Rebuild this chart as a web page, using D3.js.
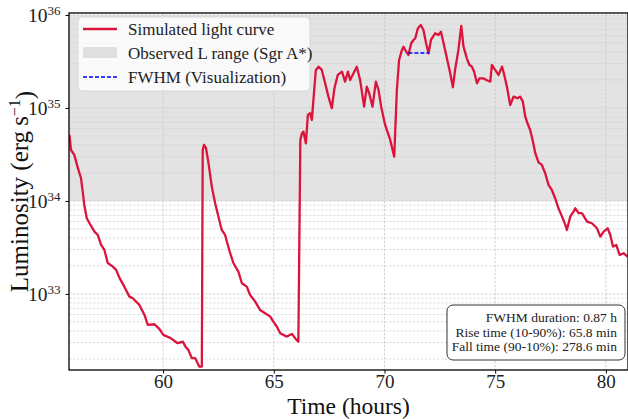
<!DOCTYPE html>
<html>
<head>
<meta charset="utf-8">
<script src="https://cdn.jsdelivr.net/npm/d3@7"></script>
<style>
  body { margin: 0; background: #fff; }
  svg { display: block; font-family: "Liberation Serif", "DejaVu Serif", serif; }
</style>
</head>
<body>
<div id="chart"></div>
<script>
// light curve (time in hours, log10 luminosity in erg/s)
var hours = [55.77,55.84,55.99,56.15,56.29,56.37,56.44,56.55,56.67,56.90,
  57.05,57.20,57.35,57.50,57.73,57.88,58.03,58.25,58.48,58.63,
  58.93,59.16,59.31,59.61,59.83,60.01,60.32,60.66,60.89,61.04,
  61.14,61.30,61.45,61.64,61.75,61.79,61.85,61.94,62.05,62.20,
  62.35,62.50,62.65,62.80,63.03,63.18,63.40,63.56,63.78,63.93,
  64.16,64.38,64.61,64.84,64.98,65.14,65.29,65.59,65.82,65.96,
  66.11,66.20,66.27,66.34,66.45,66.54,66.64,66.72,66.79,66.90,
  67.02,67.17,67.32,67.47,67.62,67.74,67.89,68.08,68.22,68.35,
  68.45,68.60,68.75,68.90,69.08,69.20,69.31,69.46,69.61,69.73,
  69.85,70.03,70.26,70.44,70.56,70.66,70.79,70.86,70.98,71.08,
  71.21,71.31,71.39,71.51,71.64,71.76,71.88,71.99,72.10,72.29,
  72.44,72.55,72.67,72.82,72.97,73.09,73.19,73.34,73.47,73.57,
  73.72,73.84,73.95,74.05,74.18,74.29,74.47,74.60,74.78,74.85,
  75.00,75.15,75.31,75.41,75.53,75.68,75.83,76.01,76.13,76.25,
  76.36,76.46,76.58,76.69,76.81,76.96,77.11,77.26,77.41,77.56,
  77.71,77.86,78.02,78.17,78.24,78.39,78.54,78.62,78.77,78.92,
  79.15,79.37,79.60,79.75,79.90,80.08,80.20,80.32,80.47,80.62,
  80.80,80.98];

var logLum = [34.710,34.548,34.495,34.355,34.247,34.100,33.957,33.817,33.763,33.670,
  33.634,33.527,33.473,33.333,33.294,33.258,33.172,33.078,32.971,32.954,
  32.882,32.774,32.667,32.674,32.624,32.559,32.527,32.470,32.487,32.423,
  32.398,32.309,32.309,32.218,32.218,34.548,34.602,34.567,34.409,34.154,
  33.978,33.831,33.688,33.634,33.438,33.330,33.240,33.115,33.078,32.989,
  32.917,32.828,32.792,32.756,32.702,32.648,32.577,32.541,32.570,32.524,
  32.487,34.656,34.728,34.745,34.620,34.925,34.943,34.871,35.086,35.409,
  35.444,35.409,35.266,35.122,34.997,35.212,35.355,35.390,35.283,35.390,
  35.301,35.373,35.444,35.301,35.014,35.229,35.158,35.014,35.283,35.194,
  35.014,34.817,34.656,34.476,35.194,35.516,35.624,35.659,35.605,35.570,
  35.696,35.731,35.749,35.857,35.892,35.839,35.696,35.588,35.731,35.803,
  35.785,35.820,35.696,35.534,35.373,35.223,35.409,35.624,35.882,35.659,
  35.534,35.462,35.444,35.390,35.266,35.319,35.319,35.301,35.283,35.462,
  35.409,35.355,35.444,35.355,35.229,35.032,35.122,35.104,35.122,35.068,
  34.906,34.835,34.763,34.656,34.516,34.414,34.387,34.298,34.172,34.118,
  34.029,33.921,33.831,33.742,33.688,33.831,33.885,33.921,33.868,33.868,
  33.777,33.760,33.706,33.616,33.670,33.706,33.634,33.509,33.527,33.419,
  33.438,33.401];

var bandRange = [1e34, 1e36];          // observed L range (Sgr A*)
var fwhmTimes = [71.08, 72.03];        // half-max crossing, hours
var fwhmLevel = 35.591;                // log10 of half max
var xTicks = [60, 65, 70, 75, 80];
var yTicks = [1e33, 1e34, 1e35, 1e36];
var statLines = ["FWHM duration: 0.87 h", "Rise time (10-90%): 65.8 min", "Fall time (90-10%): 278.6 min"];
var legendNames = ["Simulated light curve", "Observed L range (Sgr A*)", "FWHM (Visualization)"];

var W = 628, H = 419;
var margin = {top: 13, right: 0, bottom: 49, left: 69},
    width = W - margin.left - margin.right,
    height = H - margin.top - margin.bottom;

var x = d3.scaleLinear().domain([55.75, 81.0]).range([0, width]);
var y = d3.scaleLog().domain([1.52e32, 1.05e36]).range([height, 0]);

var svg = d3.select("#chart").append("svg")
    .attr("width", W)
    .attr("height", H);

var g = svg.append("g")
    .attr("transform", "translate(" + margin.left + "," + margin.top + ")");

g.append("defs").append("clipPath").attr("id", "clip")
  .append("rect").attr("width", width).attr("height", height);

// shaded band
g.append("rect")
    .attr("x", 0)
    .attr("width", width)
    .attr("y", y(bandRange[1]))
    .attr("height", y(bandRange[0]) - y(bandRange[1]))
    .attr("fill", "#e3e3e3");

// grid: minor + major horizontal, major vertical
var minors = [];
[32, 33, 34, 35].forEach(function(e) {
  for (var m = 2; m <= 9; m++) {
    var v = m * Math.pow(10, e);
    if (v > y.domain()[0] && v < y.domain()[1]) minors.push(v);
  }
});
g.append("g").selectAll("line").data(minors).enter().append("line")
    .attr("x1", 0).attr("x2", width)
    .attr("y1", function(d) { return y(d); })
    .attr("y2", function(d) { return y(d); })
    .attr("stroke", "#cfcfcf")
    .attr("stroke-width", 0.7)
    .attr("stroke-dasharray", "2.5,1.5");

g.append("g").selectAll("line").data(yTicks).enter().append("line")
    .attr("x1", 0).attr("x2", width)
    .attr("y1", function(d) { return y(d); })
    .attr("y2", function(d) { return y(d); })
    .attr("stroke", "#c8c8c8")
    .attr("stroke-width", 0.8)
    .attr("stroke-dasharray", "2.5,1.5");

g.append("g").selectAll("line").data(xTicks).enter().append("line")
    .attr("x1", function(d) { return x(d); })
    .attr("x2", function(d) { return x(d); })
    .attr("y1", 0).attr("y2", height)
    .attr("stroke", "#c8c8c8")
    .attr("stroke-width", 0.8)
    .attr("stroke-dasharray", "2.5,1.5");

// light curve
var pts = hours.map(function(h, i) { return {t: h, L: Math.pow(10, logLum[i])}; });
var line = d3.line()
    .x(function(d) { return x(d.t); })
    .y(function(d) { return y(d.L); });

g.append("path")
    .datum(pts)
    .attr("clip-path", "url(#clip)")
    .attr("d", line)
    .attr("fill", "none")
    .attr("stroke", "#dc143c")
    .attr("stroke-width", 2.3)
    .attr("stroke-linejoin", "round");

// FWHM marker
g.append("line")
    .attr("x1", x(fwhmTimes[0]))
    .attr("x2", x(fwhmTimes[1]))
    .attr("y1", y(Math.pow(10, fwhmLevel)))
    .attr("y2", y(Math.pow(10, fwhmLevel)))
    .attr("stroke", "#0000ff")
    .attr("stroke-width", 1.5)
    .attr("stroke-dasharray", "4,2");

// frame
g.append("rect")
    .attr("width", width).attr("height", height)
    .attr("fill", "none")
    .attr("stroke", "#000")
    .attr("stroke-width", 1.3);

// axes
var xAxis = g.append("g")
    .attr("transform", "translate(0," + height + ")")
    .call(d3.axisBottom(x).tickValues(xTicks).tickSize(3.5).tickPadding(2));
xAxis.select(".domain").remove();
xAxis.selectAll("text")
    .attr("font-family", "Liberation Serif, serif")
    .attr("font-size", 19)
    .attr("dy", "0.68em")
    .attr("fill", "#222");

var yAxis = g.append("g")
    .call(d3.axisLeft(y).tickValues(yTicks).tickSize(3.5).tickPadding(5).tickFormat(""));
yAxis.select(".domain").remove();
yAxis.selectAll(".tick text")
    .attr("font-family", "Liberation Serif, serif")
    .attr("font-size", 19.5)
    .attr("fill", "#222")
    .attr("dy", "0.35em")
    .each(function(d) {
      var el = d3.select(this);
      el.text("10");
      el.append("tspan")
        .attr("dy", "-0.55em")
        .attr("font-size", 13)
        .text(Math.round(Math.log10(d)));
    });

// axis labels
svg.append("text")
    .attr("x", margin.left + width / 2)
    .attr("y", 414)
    .attr("text-anchor", "middle")
    .attr("font-size", 23.5)
    .attr("fill", "#111")
    .text("Time (hours)");

var ylab = svg.append("text")
    .attr("transform", "translate(28," + (margin.top + height / 2) + ") rotate(-90)")
    .attr("text-anchor", "middle")
    .attr("font-size", 25)
    .attr("fill", "#111");
ylab.append("tspan").text("Luminosity (erg\u2009s");
ylab.append("tspan").attr("dy", "-0.5em").attr("font-size", 16).text("\u22121");
ylab.append("tspan").attr("dy", "0.5em").text(")");

// legend
var leg = svg.append("g").attr("transform", "translate(78,17)");
leg.append("rect")
    .attr("width", 232).attr("height", 74)
    .attr("rx", 4)
    .attr("fill", "#fff").attr("fill-opacity", 0.8)
    .attr("stroke", "#d6d6d6");
var rowY = [12, 36, 60];
leg.append("line").attr("x1", 5).attr("x2", 39).attr("y1", rowY[0]).attr("y2", rowY[0])
    .attr("stroke", "#dc143c").attr("stroke-width", 2.3);
leg.append("rect").attr("x", 5).attr("y", rowY[1] - 6).attr("width", 34).attr("height", 11)
    .attr("fill", "#e0e0e0");
leg.append("line").attr("x1", 5).attr("x2", 39).attr("y1", rowY[2]).attr("y2", rowY[2])
    .attr("stroke", "#0000ff").attr("stroke-width", 1.5).attr("stroke-dasharray", "4,2");
leg.selectAll("text.name").data(legendNames).enter().append("text")
    .attr("class", "name")
    .attr("x", 50)
    .attr("y", function(d, i) { return rowY[i] + 5.5; })
    .attr("font-size", 17)
    .attr("fill", "#222")
    .text(function(d) { return d; });

// stats box
var box = svg.append("g").attr("transform", "translate(447,305)");
box.append("rect")
    .attr("width", 178).attr("height", 55)
    .attr("rx", 6)
    .attr("fill", "#fff").attr("fill-opacity", 0.9)
    .attr("stroke", "#333").attr("stroke-width", 1);
box.selectAll("text").data(statLines).enter().append("text")
    .attr("x", 170)
    .attr("y", function(d, i) { return 17 + i * 14.5; })
    .attr("text-anchor", "end")
    .attr("font-size", 13.5)
    .attr("fill", "#222")
    .text(function(d) { return d; });
</script>
</body>
</html>
